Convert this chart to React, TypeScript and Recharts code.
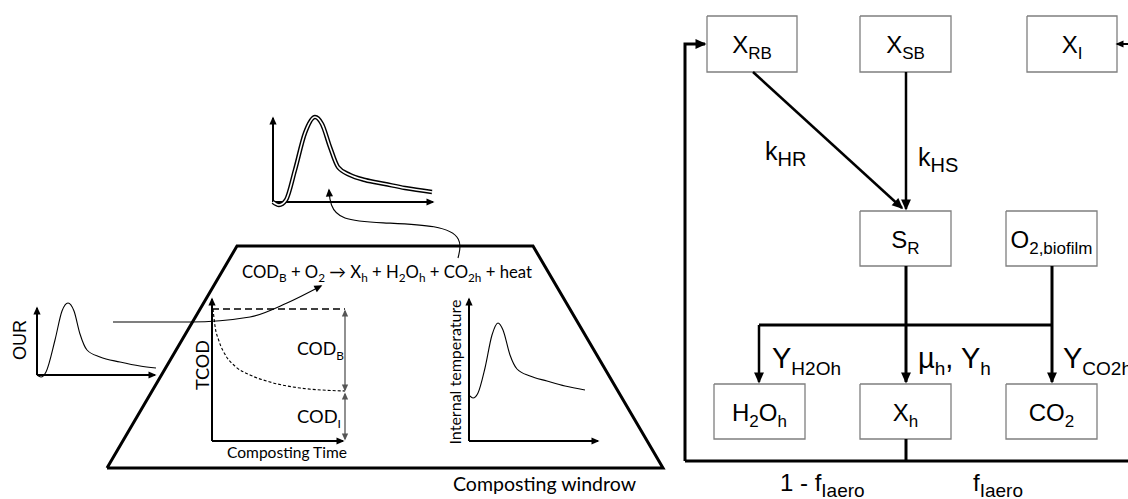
import React from 'react';
import { ComposedChart, Line, Scatter, XAxis, YAxis } from 'recharts';

type Pt = { x: number; y: number };
type Part = [string, 'n' | 's'];
type Label = {
  x: number;
  y: number;
  parts: Part[];
  size: number;
  sub?: number;
  font: 'arial' | 'calibri';
  anchor?: 'start' | 'middle' | 'end';
  rotate?: boolean;
  len?: number;
};
type Path = {
  pts: Pt[];
  width: number;
  color?: string;
  curve?: 'linear' | 'monotoneX' | 'basis';
  dash?: string;
  head?: boolean;
  tail?: boolean;
  headSize?: number;
};

const W = 1128;
const H = 499;
const P = (x: number, y: number): Pt => ({ x, y });

const ARIAL = '"Liberation Sans", Arial, sans-serif';
const CALIBRI = 'Lato, "Open Sans", sans-serif';

// ---------- right: state-variable boxes ----------
const boxes: { x1: number; y1: number; x2: number; y2: number; parts: Part[] }[] = [
  { x1: 707, y1: 16, x2: 797, y2: 72, parts: [['X', 'n'], ['RB', 's']] },
  { x1: 860, y1: 16, x2: 951, y2: 72, parts: [['X', 'n'], ['SB', 's']] },
  { x1: 1027, y1: 16, x2: 1117, y2: 72, parts: [['X', 'n'], ['I', 's']] },
  { x1: 860, y1: 211, x2: 951, y2: 266, parts: [['S', 'n'], ['R', 's']] },
  { x1: 1006, y1: 211, x2: 1097, y2: 266, parts: [['O', 'n'], ['2,biofilm', 's']] },
  { x1: 714, y1: 384, x2: 805, y2: 439, parts: [['H', 'n'], ['2', 's'], ['O', 'n'], ['h', 's']] },
  { x1: 860, y1: 384, x2: 951, y2: 439, parts: [['X', 'n'], ['h', 's']] },
  { x1: 1006, y1: 384, x2: 1097, y2: 439, parts: [['CO', 'n'], ['2', 's']] },
];

// ---------- right: process arrows ----------
const flowPaths: Path[] = [
  { pts: [P(685, 461), P(685, 44), P(705, 44)], width: 3, head: true },
  { pts: [P(685, 461), P(1128, 461)], width: 3 },
  { pts: [P(1130, 44), P(1117, 44)], width: 2, head: true, headSize: 8 },
  { pts: [P(906, 439), P(906, 461)], width: 3 },
  { pts: [P(753, 72), P(902, 208)], width: 2.5, head: true },
  { pts: [P(906, 72), P(906, 209)], width: 2.5, head: true },
  { pts: [P(906, 266), P(906, 382)], width: 3, head: true },
  { pts: [P(759, 325), P(1052, 325)], width: 3 },
  { pts: [P(759, 325), P(759, 382)], width: 2.5, head: true },
  { pts: [P(1052, 266), P(1052, 382)], width: 3, head: true },
];

const flowLabels: Label[] = [
  { x: 765, y: 160, parts: [['k', 'n'], ['HR', 's']], size: 25, sub: 20, font: 'arial' },
  { x: 918, y: 166, parts: [['k', 'n'], ['HS', 's']], size: 25, sub: 20, font: 'arial' },
  { x: 772, y: 368, parts: [['Y', 'n'], ['H2Oh', 's']], size: 29, sub: 19, font: 'arial' },
  { x: 918, y: 368, parts: [['µ', 'n'], ['h', 's'], [', Y', 'n'], ['h', 's']], size: 29, sub: 19, font: 'arial' },
  { x: 1063, y: 368, parts: [['Y', 'n'], ['CO2h', 's']], size: 29, sub: 19, font: 'arial' },
  { x: 780, y: 491, parts: [['1 - f', 'n'], ['Iaero', 's']], size: 24, sub: 19, font: 'arial' },
  { x: 973, y: 491, parts: [['f', 'n'], ['Iaero', 's']], size: 24, sub: 19, font: 'arial' },
];

// ---------- left: windrow outline ----------
const windrow: Pt[] = [P(107, 468), P(237, 246), P(533, 246), P(663, 468), P(107, 468)];

// oxygen uptake rate curve (small plot, far left)
const ourCurve: Pt[] = [
  P(37, 375), P(41, 377), P(46, 372), P(55, 340), P(62, 311), P(68, 303),
  P(74, 311), P(80, 334), P(87, 350), P(100, 357), P(120, 362), P(140, 366), P(156, 368),
];

// residual TCOD curve
const tcodCurve: Pt[] = [
  P(213, 309), P(215, 326), P(219, 341), P(226, 356), P(236, 367), P(250, 375),
  P(270, 382), P(300, 388), P(345, 391),
];

// internal temperature curve
const tempCurve: Pt[] = [
  P(470, 396), P(473, 398), P(478, 393), P(485, 368), P(492, 335), P(498, 323),
  P(503, 330), P(510, 355), P(517, 369), P(530, 376), P(547, 381), P(565, 386), P(585, 390),
];

// top plot: double-stroked response curve
const topCurve: Pt[] = [
  P(273, 202), P(279, 205), P(286, 200), P(295, 170), P(305, 133), P(315, 117),
  P(322, 124), P(330, 147), P(338, 167), P(350, 175), P(365, 180), P(385, 184),
  P(405, 188), P(432, 192),
];

const leftPaths: Path[] = [
  // OUR axes
  { pts: [P(37, 375), P(37, 308)], width: 2, head: true, headSize: 8 },
  { pts: [P(37, 375), P(155, 375)], width: 2, head: true, headSize: 8 },
  // TCOD axes
  { pts: [P(212, 441), P(212, 299)], width: 2, head: true, headSize: 8 },
  { pts: [P(212, 441), P(343, 441)], width: 2, head: true, headSize: 8 },
  // temperature axes
  { pts: [P(469, 441), P(469, 299)], width: 2, head: true, headSize: 8 },
  { pts: [P(469, 441), P(598, 441)], width: 2, head: true, headSize: 8 },
  // top plot axes
  { pts: [P(273, 202), P(273, 118)], width: 2, head: true, headSize: 8 },
  { pts: [P(273, 202), P(433, 202)], width: 2, head: true, headSize: 8 },
  // initial TCOD level
  { pts: [P(212, 309), P(345, 309)], width: 1.3, dash: '7 4' },
  // COD_B and COD_I extents
  { pts: [P(345, 311), P(345, 390)], width: 1.3, color: '#555', head: true, tail: true, headSize: 7 },
  { pts: [P(345, 394), P(345, 439)], width: 1.3, color: '#555', head: true, tail: true, headSize: 7 },
  // links between the plots and the reaction
  {
    pts: [P(113, 322), P(190, 322), P(250, 317), P(287, 303), P(321, 286)],
    width: 1.1, curve: 'monotoneX', head: true, headSize: 8,
  },
  {
    pts: [P(458, 258), P(463, 238), P(440, 225), P(380, 223), P(340, 220), P(330, 205), P(329, 190)],
    width: 1.1, curve: 'basis', head: true, headSize: 8,
  },
];

const leftLabels: Label[] = [
  { x: 20, y: 340, parts: [['OUR', 'n']], size: 18, font: 'arial', anchor: 'middle', rotate: true },
  { x: 202, y: 365, parts: [['TCOD', 'n']], size: 18, font: 'calibri', anchor: 'middle', rotate: true, len: 50 },
  { x: 454, y: 372, parts: [['Internal temperature', 'n']], size: 16, font: 'calibri', anchor: 'middle', rotate: true, len: 145 },
  { x: 297, y: 355, parts: [['COD', 'n'], ['B', 's']], size: 18, sub: 12, font: 'calibri', len: 47 },
  { x: 297, y: 423, parts: [['COD', 'n'], ['I', 's']], size: 18, sub: 12, font: 'calibri', len: 44 },
  { x: 227, y: 458, parts: [['Composting Time', 'n']], size: 15, font: 'calibri', len: 120 },
  { x: 453, y: 491, parts: [['Composting windrow', 'n']], size: 19, font: 'calibri', len: 183 },
  {
    x: 242, y: 278,
    parts: [
      ['COD', 'n'], ['B', 's'], [' + O', 'n'], ['2', 's'], [' \u2192 X', 'n'], ['h', 's'],
      [' + H', 'n'], ['2', 's'], ['O', 'n'], ['h', 's'], [' + CO', 'n'], ['2h', 's'], [' + heat', 'n'],
    ],
    size: 17, sub: 12, font: 'calibri', len: 290,
  },
];

// ---------- rendering helpers ----------
const boxOutline = (b: { x1: number; y1: number; x2: number; y2: number }): Pt[] => [
  P(b.x1, b.y1), P(b.x2, b.y1), P(b.x2, b.y2), P(b.x1, b.y2), P(b.x1, b.y1),
];

const boxLabels: Label[] = boxes.map((b) => ({
  x: (b.x1 + b.x2) / 2,
  y: (b.y1 + b.y2) / 2 + 9,
  parts: b.parts,
  size: 24,
  sub: 17,
  font: 'arial',
  anchor: 'middle',
}));

function arrowHead(cx: number, cy: number, from: Pt, to: Pt, size: number, color: string, key: string) {
  const dx = to.x - from.x;
  const dy = to.y - from.y;
  const len = Math.hypot(dx, dy) || 1;
  const ux = dx / len;
  const uy = dy / len;
  const tx = cx + ux * 1.5;
  const ty = cy + uy * 1.5;
  const bx = tx - ux * size;
  const by = ty - uy * size;
  const hw = size * 0.45;
  const pts = `${tx},${ty} ${bx - uy * hw},${by + ux * hw} ${bx + uy * hw},${by - ux * hw}`;
  return <polygon key={key} points={pts} fill={color} stroke="none" />;
}

function makeDot(path: Path, id: string) {
  const n = path.pts.length;
  const color = path.color ?? '#000';
  const size = path.headSize ?? 11;
  return (props: any) => {
    const { cx, cy, index } = props;
    const key = `${id}-${index}`;
    if (path.head && index === n - 1) {
      return arrowHead(cx, cy, path.pts[n - 2], path.pts[n - 1], size, color, key);
    }
    if (path.tail && index === 0) {
      return arrowHead(cx, cy, path.pts[1], path.pts[0], size, color, key);
    }
    return <g key={key} />;
  };
}

function LabelShape(props: any) {
  const { cx, cy, payload } = props;
  const l = payload as Label;
  const subSize = l.sub ?? Math.round(l.size * 0.7);
  const shift = Math.round(l.size * 0.25);
  let cur = 0;
  const spans = l.parts.map(([t, kind], i) => {
    const target = kind === 's' ? shift : 0;
    const dy = target - cur;
    cur = target;
    return (
      <tspan key={i} dy={dy} fontSize={kind === 's' ? subSize : l.size}>
        {t}
      </tspan>
    );
  });
  return (
    <text
      x={cx}
      y={cy}
      fill="#000"
      fontFamily={l.font === 'arial' ? ARIAL : CALIBRI}
      fontSize={l.size}
      textAnchor={l.anchor ?? 'start'}
      dominantBaseline={l.rotate ? 'central' : 'alphabetic'}
      transform={l.rotate ? `rotate(-90 ${cx} ${cy})` : undefined}
      textLength={l.len}
      lengthAdjust={l.len ? 'spacingAndGlyphs' : undefined}
      style={{ whiteSpace: 'pre' }}
    >
      {spans}
    </text>
  );
}

function renderPath(path: Path, id: string) {
  return (
    <Line
      key={id}
      data={path.pts}
      dataKey="y"
      type={path.curve ?? 'linear'}
      stroke={path.color ?? '#000'}
      strokeWidth={path.width}
      strokeDasharray={path.dash}
      strokeLinejoin="miter"
      dot={path.head || path.tail ? makeDot(path, id) : false}
      activeDot={false}
      isAnimationActive={false}
      legendType="none"
    />
  );
}

function plainCurve(pts: Pt[], id: string, width: number, color = '#000', dash?: string) {
  return (
    <Line
      key={id}
      data={pts}
      dataKey="y"
      type="monotoneX"
      stroke={color}
      strokeWidth={width}
      strokeDasharray={dash}
      dot={false}
      activeDot={false}
      isAnimationActive={false}
      legendType="none"
    />
  );
}

const allLabels: Label[] = [...boxLabels, ...flowLabels, ...leftLabels];

export default function App() {
  return (
    <div style={{ position: 'absolute', left: 0, top: 0, width: W, height: H, background: '#fff' }}>
      <ComposedChart width={W} height={H} margin={{ top: 0, right: 0, bottom: 0, left: 0 }}>
        <XAxis dataKey="x" type="number" domain={[0, W]} hide allowDataOverflow />
        <YAxis dataKey="y" type="number" domain={[0, H]} reversed hide allowDataOverflow />

        {/* windrow */}
        {renderPath({ pts: windrow, width: 3 }, 'windrow')}

        {/* boxes */}
        {boxes.map((b, i) => renderPath({ pts: boxOutline(b), width: 1.3, color: '#7f7f7f' }, `box${i}`))}

        {/* arrows */}
        {flowPaths.map((p, i) => renderPath(p, `flow${i}`))}
        {leftPaths.map((p, i) => renderPath(p, `left${i}`))}

        {/* curves */}
        {plainCurve(ourCurve, 'our', 1.1)}
        {plainCurve(tcodCurve, 'tcod', 1.1, '#000', '3 2')}
        {plainCurve(tempCurve, 'temp', 1.1)}
        {plainCurve(topCurve, 'topOuter', 4.5)}
        {plainCurve(topCurve, 'topInner', 1.6, '#fff')}

        {/* text */}
        <Scatter
          data={allLabels}
          dataKey="y"
          isAnimationActive={false}
          legendType="none"
          shape={(p: any) => <LabelShape {...p} />}
        />
      </ComposedChart>
    </div>
  );
}
